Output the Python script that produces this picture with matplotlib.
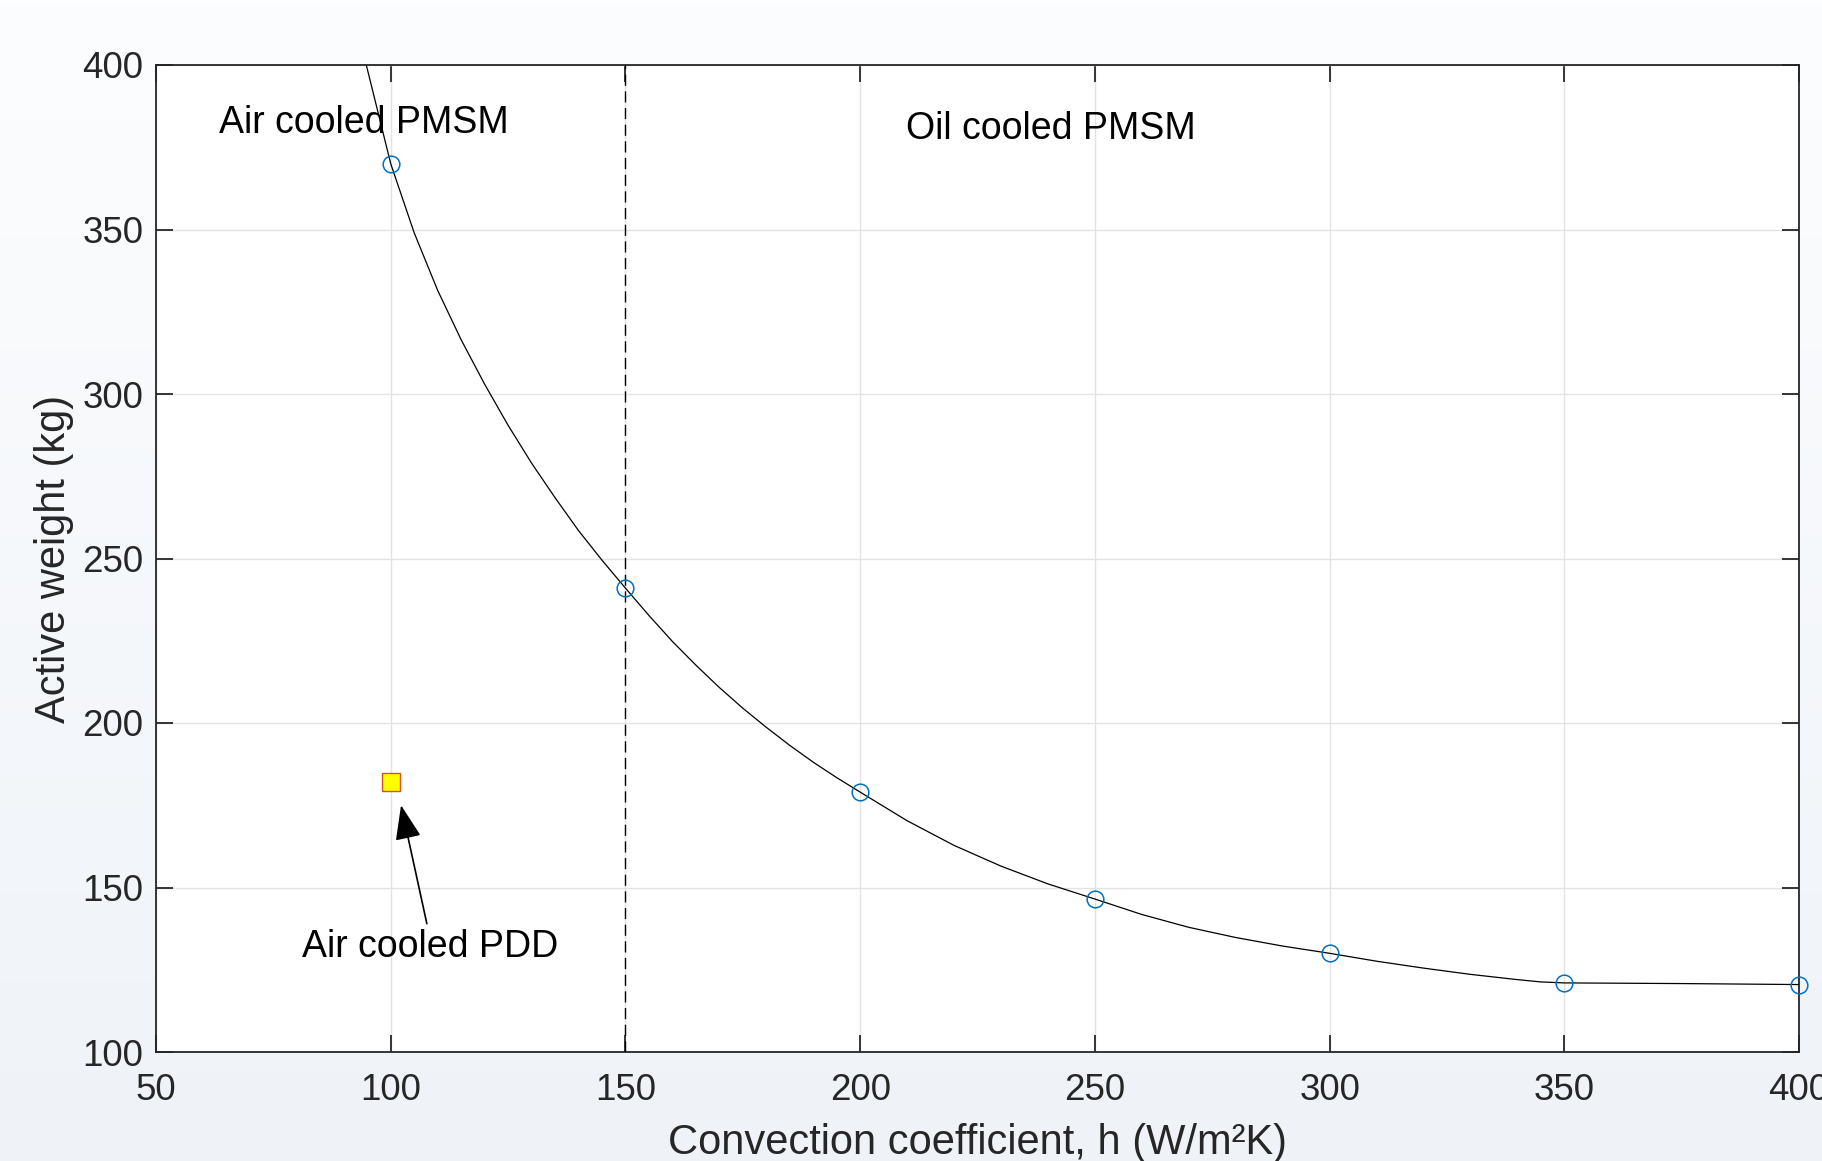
import matplotlib
matplotlib.use("Agg")
import matplotlib.pyplot as plt
import numpy as np

# design points (circles)
h_points = [100, 150, 200, 250, 300, 350, 400]
w_points = [370, 241, 179, 146.5, 130, 121, 120.5]

# fitted curve
h_curve = [94.8, 100, 105, 110, 115, 120, 125, 130, 135, 140, 145, 150,
           155, 160, 165, 170, 175, 180, 185, 190, 195, 200,
           210, 220, 230, 240, 250, 260, 270, 280, 290, 300,
           310, 320, 330, 340, 345, 350, 375, 400]
w_curve = [400, 370, 349, 331.5, 316.5, 303, 290.5, 279, 268.5, 258.5, 249.5, 241,
           232.7, 224.8, 217.6, 210.8, 204.5, 198.7, 193.2, 188.1, 183.4, 179,
           170.3, 162.8, 156.5, 151.1, 146.5, 141.8, 137.9, 134.8, 132.2, 130,
           127.6, 125.5, 123.6, 122, 121.3, 121, 120.8, 120.5]

# PDD reference machine
h_pdd = [100]
w_pdd = [182]

plt.rcParams['font.family'] = ['Liberation Sans', 'DejaVu Sans']
fig = plt.figure(figsize=(18.22, 11.61), dpi=100)

# light vertical gradient behind everything
bg = fig.add_axes([0, 0, 1, 1], zorder=-10)
grad = np.linspace(0, 1, 256).reshape(-1, 1)
bg.imshow(grad, aspect='auto', cmap=matplotlib.colors.LinearSegmentedColormap.from_list(
    'bg', ['#fcfdfe', '#eff3f8']), extent=[0, 1, 0, 1], origin='upper')
bg.axis('off')

ax = fig.add_axes([156 / 1822, 1 - 1052 / 1161, (1799 - 156) / 1822, (1052 - 65) / 1161])
ax.set_facecolor('white')

ax.plot(h_curve, w_curve, color='black', lw=0.9, zorder=3)
ax.plot(h_points, w_points, 'o', mfc='none', mec='#0072BD', ms=12, mew=1.1, zorder=4, clip_on=False)
ax.plot([150, 150], [100, 400], '--', color='black', lw=1.0, dashes=(8, 4), zorder=3)
ax.plot(h_pdd, w_pdd, 's', mfc='#FFFF00', mec='#D95319', ms=13.5, mew=1.0, zorder=5)

ax.annotate('', xy=(102.2, 175), xytext=(107.7, 139),
            arrowprops=dict(arrowstyle='-|>,head_length=0.8,head_width=0.3',
                            color='black', lw=1.2, shrinkA=0, shrinkB=0,
                            mutation_scale=27))
ax.text(108.4, 131.8, 'Air cooled PDD', fontsize=27, ha='center', va='center')
ax.text(63.4, 382.5, 'Air cooled PMSM', fontsize=27, va='center', ha='left', zorder=2)
ax.text(209.7, 380.5, 'Oil cooled PMSM', fontsize=27, va='center', ha='left')

ax.set_xlim(50, 400)
ax.set_ylim(100, 400)
ax.set_xticks(range(50, 401, 50))
ax.set_yticks(range(100, 401, 50))
ax.grid(True, color='#e3e3e3', lw=1.0)
ax.set_axisbelow(True)
ax.tick_params(direction='in', length=12, width=1.3, top=True, right=True,
               labelsize=26.5, colors='#262626')
ax.tick_params(axis='x', pad=15)
ax.tick_params(axis='y', pad=9)
for s in ax.spines.values():
    s.set_color('#262626')
    s.set_linewidth(1.3)

ax.set_xlabel('Convection coefficient, h (W/m²K)', fontsize=30, color='#262626', labelpad=11)
ax.set_ylabel('Active weight (kg)', fontsize=30, color='#262626', labelpad=6)

fig.savefig('out.png', dpi=100)
